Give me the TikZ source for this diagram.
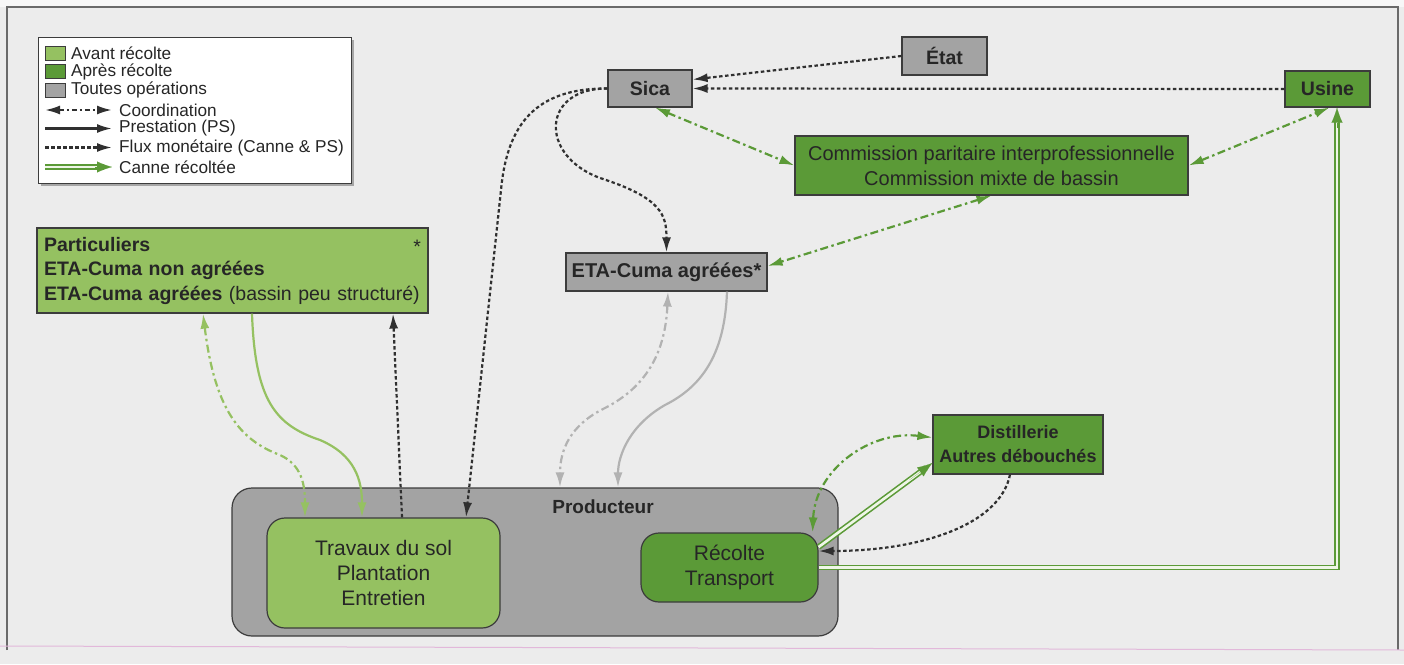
\documentclass[tikz,border=0pt]{standalone}
\usepackage{fontspec}
\setmainfont{Liberation Sans}
\usetikzlibrary{arrows.meta,calc}
\definecolor{bgc}{HTML}{ECECEC}
\definecolor{lg}{HTML}{95C161}
\definecolor{dg}{HTML}{5B9A37}
\definecolor{gf}{HTML}{A3A3A3}
\definecolor{bordc}{HTML}{3C3C3C}
\definecolor{txt}{HTML}{262626}
\definecolor{arrd}{HTML}{303030}
\definecolor{arrg}{HTML}{B2B2B2}
\definecolor{framec}{HTML}{6A6A6A}
\definecolor{pinkc}{HTML}{E2B8DA}
\begin{document}
\begin{tikzpicture}[x=1pt,y=-1pt,
  >={Latex[length=15pt,width=9pt]},
  nodefont/.style={font=\fontsize{20}{25}\selectfont},
  box/.style={draw=bordc,line width=1.2pt,inner sep=0pt,text=txt,align=center,nodefont},
  greybox/.style={box,fill=gf},
  lgbox/.style={box,fill=lg},
  dgbox/.style={box,fill=dg},
  legtxt/.style={anchor=west,inner sep=0pt,text=txt,font=\fontsize{17.2}{19}\selectfont},
  swatch/.style={draw=bordc,line width=0.8pt,minimum width=20pt,minimum height=14pt,inner sep=0pt},
  money/.style={draw=arrd,line width=2.2pt,dash pattern=on 3.5pt off 2.5pt},
  coord/.style={draw=dg,line width=2.2pt,dash pattern=on 8pt off 3.5pt on 2.5pt off 3.5pt},
  coordlg/.style={coord,draw=lg},
  coordgr/.style={coord,draw=arrg},
  coordbk/.style={coord,draw=arrd},
  prest/.style={draw=arrd,line width=2.2pt},
  prestlg/.style={prest,draw=lg},
  prestgr/.style={prest,draw=arrg},
  canne/.style={draw=dg,line width=1.6pt,double=white!85!lg,double distance=2.6pt},
  cannetip/.style={draw=dg,line width=0.1pt,-{Latex[length=15pt,width=11pt]}}
]
\useasboundingbox (0,0) rectangle (1404,664);
\fill[bgc] (0,0) rectangle (1404,664);
\fill[white!60!bgc] (0,0) rectangle (1404,7);
\draw[framec,line width=1.2pt] (7,650) -- (7,7) -- (1398,7) -- (1398,650);
\draw[pinkc,line width=1pt] (0,646) -- (1404,650);

% legend
\fill[gray!70] (41,40) rectangle (354,186);
\node[draw=bordc,line width=1pt,fill=white,minimum width=313pt,minimum height=146pt,inner sep=0pt] (legend) at (194.5,110) {};
\node[swatch,fill=lg] (s1) at (55,53) {};
\node[swatch,fill=dg] (s2) at (55,71.5) {};
\node[swatch,fill=gf] (s3) at (55,90) {};
\node[legtxt] (t1) at (71,53) {Avant récolte};
\node[legtxt] (t2) at (71,71.5) {Après récolte};
\node[legtxt] (t3) at (71,90) {Toutes opérations};
\coordinate (a1) at (45,110); \coordinate (b1) at (112,110);
\coordinate (a2) at (45,128.5); \coordinate (b2) at (112,128.5);
\coordinate (a3) at (45,147.5); \coordinate (b3) at (112,147.5);
\coordinate (a4) at (45,167); \coordinate (b4) at (112,167);
\draw[coordbk,<->,dash pattern=on 5pt off 3pt on 2pt off 3pt] (a1) -- (b1);
\draw[prest,->] (a2) -- (b2);
\draw[money,->] (a3) -- (b3);
\draw[canne,shorten >=8pt] (a4) -- (b4);
\draw[cannetip] (95,167) -- (b4);
\node[legtxt] (t4) at (119,110) {Coordination};
\node[legtxt] (t5) at (119,128.5) {Prestation (PS)};
\node[legtxt] (t6) at (119,147.5) {Flux monétaire (Canne \& PS)};
\node[legtxt] (t7) at (119,167) {Canne récoltée};

% nodes
\node[greybox,minimum width=85pt,minimum height=38pt,font=\fontsize{19.5}{24}\selectfont\bfseries] (etat) at (944.5,56) {État};
\node[greybox,minimum width=84pt,minimum height=37pt,font=\fontsize{19.5}{24}\selectfont\bfseries] (sica) at (650,88.5) {Sica};
\node[dgbox,minimum width=85pt,minimum height=36pt,font=\fontsize{19.5}{24}\selectfont\bfseries] (usine) at (1327.5,89) {Usine};
\node[dgbox,minimum width=393pt,minimum height=59pt] (comm) at (991.5,165.5) {Commission paritaire interprofessionnelle\\Commission mixte de bassin};
\node[greybox,minimum width=201pt,minimum height=38pt,font=\fontsize{20}{24}\selectfont\bfseries] (eta) at (666.5,272) {ETA-Cuma agréées*};
\node[lgbox,minimum width=391pt,minimum height=85pt,align=left,text width=377pt,font=\fontsize{19.5}{24.5}\selectfont] (part) at (232.5,270.5)
  {\textbf{Particuliers}\hfill\raisebox{-2pt}{*}\hspace*{8pt}\\\textbf{ETA-Cuma non agréées}\\\textbf{ETA-Cuma agréées} (bassin peu structuré)};
\node[dgbox,minimum width=170pt,minimum height=59pt,font=\fontsize{18}{24}\selectfont\bfseries] (dist) at (1018,444.5) {Distillerie\\Autres débouchés};
\node[draw=bordc,line width=1.2pt,fill=gf,rounded corners=20pt,minimum width=606pt,minimum height=148pt,inner sep=0pt] (prod) at (535,562) {};
\node[text=txt,font=\fontsize{19}{24}\selectfont\bfseries,inner sep=0pt] (prodlab) at (603,507) {Producteur};
\node[lgbox,rounded corners=18pt,minimum width=233pt,minimum height=110pt,font=\fontsize{21}{25}\selectfont] (trav) at (383.5,573) {Travaux du sol\\Plantation\\Entretien};
\node[dgbox,rounded corners=18pt,minimum width=177pt,minimum height=69pt,font=\fontsize{21}{25}\selectfont] (reco) at (729.5,567.5) {Récolte\\Transport};

% connectors top
\draw[money,->] (etat.west) -- ([yshift=9pt]sica.east);
\draw[money,->] (usine.west) -- (sica.east);
\draw[coord,<->] ([xshift=5pt]sica.south) -- (comm.west);
\draw[coord,<->] (comm.east) -- ([xshift=2pt]usine.south);
\draw[coord,<->] (comm.south) -- ([yshift=6pt]eta.east);
\draw[money,->] (sica.west) .. controls (542,88) and (538,155) .. (600,178) .. controls (662,198) and (666.5,215) .. (eta.north);
\draw[money,->] (sica.west) .. controls (535,88) and (507,125) .. (501,190) -- ([xshift=82.5pt]trav.north);

% Particuliers
\draw[money,->] ([xshift=18.5pt]trav.north) -- ([xshift=160.5pt]part.south);
\draw[coordlg,<->] ([xshift=-29.5pt]part.south) .. controls (215,410) and (240,440) .. (280,455) .. controls (302,465) and (305,485) .. ([xshift=-78.5pt]trav.north);
\draw[prestlg,->] ([xshift=19.5pt]part.south) .. controls (255,400) and (275,425) .. (320,440) .. controls (355,455) and (362,480) .. ([xshift=-21.5pt]trav.north);

% ETA-Cuma
\draw[coordgr,<->] ([xshift=1.5pt]eta.south) .. controls (665,360) and (640,390) .. (605,408) .. controls (570,425) and (560,450) .. ([xshift=25pt]prod.north);
\draw[prestgr,->] ([xshift=60.5pt]eta.south) .. controls (725,350) and (705,385) .. (665,405) .. controls (630,425) and (618,455) .. ([xshift=83pt]prod.north);

% Distillerie
\draw[coord,<->] ([yshift=7pt]dist.west) .. controls (870,430) and (815,470) .. ([xshift=-6pt]reco.north east);
\coordinate (r1) at ([yshift=20.5pt]reco.east);
\coordinate (d1) at ([yshift=-18.5pt]dist.west);
\draw[canne,shorten >=8pt] (r1) -- (d1);
\draw[cannetip] ($(r1)!0.8!(d1)$) -- (d1);
\draw[money,->] ([xshift=-8pt]dist.south) .. controls (1000,525) and (920,551) .. ([yshift=16.5pt]reco.east);

% Usine
\draw[canne,shorten >=8pt] (reco.east) -| ([xshift=9.5pt]usine.south);
\draw[cannetip] ([xshift=9.5pt,yshift=-20pt]usine.south) -- ([xshift=9.5pt]usine.south);
\end{tikzpicture}
\end{document}
